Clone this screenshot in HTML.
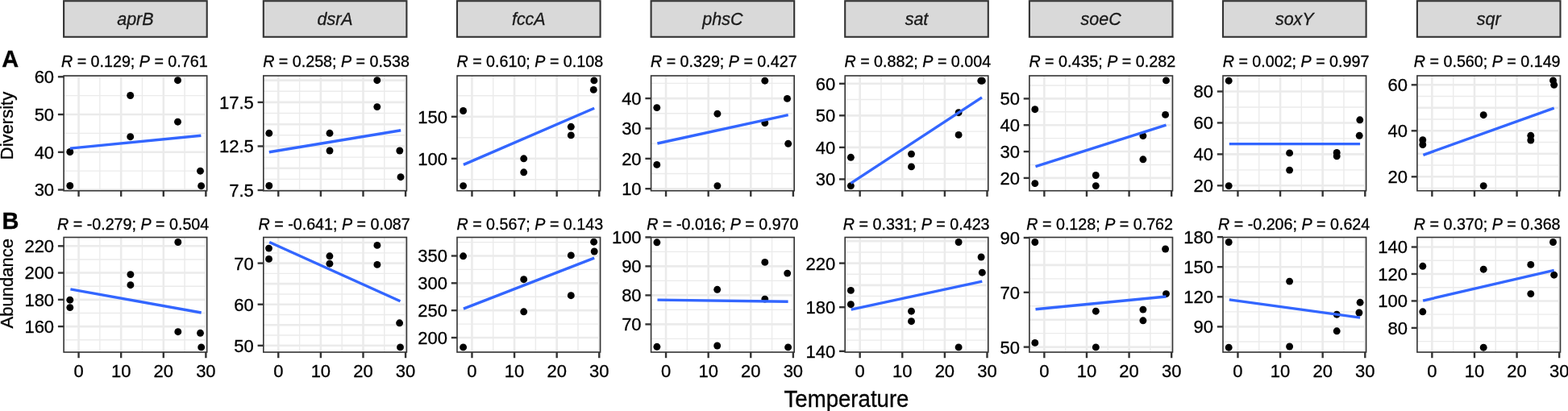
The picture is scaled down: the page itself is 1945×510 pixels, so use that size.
<!DOCTYPE html>
<html><head><meta charset="utf-8"><title>Temperature correlations</title>
<style>
html,body{margin:0;padding:0;background:#fff;}
body{width:1945px;height:510px;overflow:hidden;}
svg{display:block;font-family:"Liberation Sans",Arial,Helvetica,sans-serif;}
</style></head>
<body>
<svg width="1945" height="510" viewBox="0 0 1945 510">
<rect width="1945" height="510" fill="#fff"/>
<rect x="79.1" y="1.2" width="177.6" height="44.6" fill="#D9D9D9" stroke="#333333" stroke-width="2.1"/>
<text transform="translate(167.9,31.3) scale(1,1.04)" text-anchor="middle" font-size="21.5" fill="#1A1A1A" stroke="#1A1A1A" stroke-width="0.3" font-style="italic">aprB</text>
<rect x="326.8" y="1.2" width="177.6" height="44.6" fill="#D9D9D9" stroke="#333333" stroke-width="2.1"/>
<text transform="translate(415.6,31.3) scale(1,1.04)" text-anchor="middle" font-size="21.5" fill="#1A1A1A" stroke="#1A1A1A" stroke-width="0.3" font-style="italic">dsrA</text>
<rect x="567" y="1.2" width="177.6" height="44.6" fill="#D9D9D9" stroke="#333333" stroke-width="2.1"/>
<text transform="translate(655.8,31.3) scale(1,1.04)" text-anchor="middle" font-size="21.5" fill="#1A1A1A" stroke="#1A1A1A" stroke-width="0.3" font-style="italic">fccA</text>
<rect x="807.6" y="1.2" width="177.6" height="44.6" fill="#D9D9D9" stroke="#333333" stroke-width="2.1"/>
<text transform="translate(896.4,31.3) scale(1,1.04)" text-anchor="middle" font-size="21.5" fill="#1A1A1A" stroke="#1A1A1A" stroke-width="0.3" font-style="italic">phsC</text>
<rect x="1048.2" y="1.2" width="177.6" height="44.6" fill="#D9D9D9" stroke="#333333" stroke-width="2.1"/>
<text transform="translate(1137,31.3) scale(1,1.04)" text-anchor="middle" font-size="21.5" fill="#1A1A1A" stroke="#1A1A1A" stroke-width="0.3" font-style="italic">sat</text>
<rect x="1276.9" y="1.2" width="177.6" height="44.6" fill="#D9D9D9" stroke="#333333" stroke-width="2.1"/>
<text transform="translate(1365.7,31.3) scale(1,1.04)" text-anchor="middle" font-size="21.5" fill="#1A1A1A" stroke="#1A1A1A" stroke-width="0.3" font-style="italic">soeC</text>
<rect x="1517" y="1.2" width="177.6" height="44.6" fill="#D9D9D9" stroke="#333333" stroke-width="2.1"/>
<text transform="translate(1605.8,31.3) scale(1,1.04)" text-anchor="middle" font-size="21.5" fill="#1A1A1A" stroke="#1A1A1A" stroke-width="0.3" font-style="italic">soxY</text>
<rect x="1757.9" y="1.2" width="177.6" height="44.6" fill="#D9D9D9" stroke="#333333" stroke-width="2.1"/>
<text transform="translate(1846.7,31.3) scale(1,1.04)" text-anchor="middle" font-size="21.5" fill="#1A1A1A" stroke="#1A1A1A" stroke-width="0.3" font-style="italic">sqr</text>
<line x1="79.1" x2="256.7" y1="212.13" y2="212.13" stroke="#EBEBEB" stroke-width="1.4"/><line x1="79.1" x2="256.7" y1="165.4" y2="165.4" stroke="#EBEBEB" stroke-width="1.4"/><line x1="79.1" x2="256.7" y1="118.67" y2="118.67" stroke="#EBEBEB" stroke-width="1.4"/><line x1="123.87" x2="123.87" y1="94" y2="236.7" stroke="#EBEBEB" stroke-width="1.4"/><line x1="176.47" x2="176.47" y1="94" y2="236.7" stroke="#EBEBEB" stroke-width="1.4"/><line x1="229.08" x2="229.08" y1="94" y2="236.7" stroke="#EBEBEB" stroke-width="1.4"/><line x1="79.1" x2="256.7" y1="235.5" y2="235.5" stroke="#EBEBEB" stroke-width="2.6"/><line x1="79.1" x2="256.7" y1="188.77" y2="188.77" stroke="#EBEBEB" stroke-width="2.6"/><line x1="79.1" x2="256.7" y1="142.03" y2="142.03" stroke="#EBEBEB" stroke-width="2.6"/><line x1="79.1" x2="256.7" y1="95.3" y2="95.3" stroke="#EBEBEB" stroke-width="2.6"/><line x1="97.56" x2="97.56" y1="94" y2="236.7" stroke="#EBEBEB" stroke-width="2.6"/><line x1="150.17" x2="150.17" y1="94" y2="236.7" stroke="#EBEBEB" stroke-width="2.6"/><line x1="202.78" x2="202.78" y1="94" y2="236.7" stroke="#EBEBEB" stroke-width="2.6"/><line x1="255.38" x2="255.38" y1="94" y2="236.7" stroke="#EBEBEB" stroke-width="2.6"/>
<circle cx="86.8" cy="188.5" r="4.45"/><circle cx="86.8" cy="230.5" r="4.45"/><circle cx="161.7" cy="118.5" r="4.45"/><circle cx="161.7" cy="169.7" r="4.45"/><circle cx="220.5" cy="99.7" r="4.45"/><circle cx="220.5" cy="151.2" r="4.45"/><circle cx="248.5" cy="212.2" r="4.45"/><circle cx="249.6" cy="230.7" r="4.45"/>
<line x1="86.8" y1="184.1" x2="249.4" y2="168.2" stroke="#3366FF" stroke-width="3.4"/>
<rect x="79.1" y="94" width="177.6" height="142.7" fill="none" stroke="#333333" stroke-width="1.6"/>
<line x1="71.9" x2="79.1" y1="235.5" y2="235.5" stroke="#333333" stroke-width="2.4"/>
<text transform="translate(67.1,243.4) scale(1,1.04)" text-anchor="end" font-size="22" fill="#000" stroke="#000" stroke-width="0.3" >30</text>
<line x1="71.9" x2="79.1" y1="188.77" y2="188.77" stroke="#333333" stroke-width="2.4"/>
<text transform="translate(67.1,196.67) scale(1,1.04)" text-anchor="end" font-size="22" fill="#000" stroke="#000" stroke-width="0.3" >40</text>
<line x1="71.9" x2="79.1" y1="142.03" y2="142.03" stroke="#333333" stroke-width="2.4"/>
<text transform="translate(67.1,149.93) scale(1,1.04)" text-anchor="end" font-size="22" fill="#000" stroke="#000" stroke-width="0.3" >50</text>
<line x1="71.9" x2="79.1" y1="95.3" y2="95.3" stroke="#333333" stroke-width="2.4"/>
<text transform="translate(67.1,103.2) scale(1,1.04)" text-anchor="end" font-size="22" fill="#000" stroke="#000" stroke-width="0.3" >60</text>
<line x1="97.56" x2="97.56" y1="236.7" y2="243.9" stroke="#333333" stroke-width="2.4"/>
<line x1="150.17" x2="150.17" y1="236.7" y2="243.9" stroke="#333333" stroke-width="2.4"/>
<line x1="202.78" x2="202.78" y1="236.7" y2="243.9" stroke="#333333" stroke-width="2.4"/>
<line x1="255.38" x2="255.38" y1="236.7" y2="243.9" stroke="#333333" stroke-width="2.4"/>
<text transform="translate(166.8,83.4) scale(1,1.04)" text-anchor="middle" font-size="19.7" fill="#000" stroke="#000" stroke-width="0.3" ><tspan font-style="italic">R</tspan> = 0.129; <tspan font-style="italic">P</tspan> = 0.761</text>
<line x1="326.8" x2="504.4" y1="222.36" y2="222.36" stroke="#EBEBEB" stroke-width="1.4"/><line x1="326.8" x2="504.4" y1="195.09" y2="195.09" stroke="#EBEBEB" stroke-width="1.4"/><line x1="326.8" x2="504.4" y1="167.81" y2="167.81" stroke="#EBEBEB" stroke-width="1.4"/><line x1="326.8" x2="504.4" y1="140.54" y2="140.54" stroke="#EBEBEB" stroke-width="1.4"/><line x1="326.8" x2="504.4" y1="113.26" y2="113.26" stroke="#EBEBEB" stroke-width="1.4"/><line x1="371.57" x2="371.57" y1="94" y2="236.7" stroke="#EBEBEB" stroke-width="1.4"/><line x1="424.17" x2="424.17" y1="94" y2="236.7" stroke="#EBEBEB" stroke-width="1.4"/><line x1="476.78" x2="476.78" y1="94" y2="236.7" stroke="#EBEBEB" stroke-width="1.4"/><line x1="326.8" x2="504.4" y1="236" y2="236" stroke="#EBEBEB" stroke-width="2.6"/><line x1="326.8" x2="504.4" y1="208.73" y2="208.73" stroke="#EBEBEB" stroke-width="2.6"/><line x1="326.8" x2="504.4" y1="181.45" y2="181.45" stroke="#EBEBEB" stroke-width="2.6"/><line x1="326.8" x2="504.4" y1="154.18" y2="154.18" stroke="#EBEBEB" stroke-width="2.6"/><line x1="326.8" x2="504.4" y1="126.9" y2="126.9" stroke="#EBEBEB" stroke-width="2.6"/><line x1="326.8" x2="504.4" y1="99.62" y2="99.62" stroke="#EBEBEB" stroke-width="2.6"/><line x1="345.26" x2="345.26" y1="94" y2="236.7" stroke="#EBEBEB" stroke-width="2.6"/><line x1="397.87" x2="397.87" y1="94" y2="236.7" stroke="#EBEBEB" stroke-width="2.6"/><line x1="450.48" x2="450.48" y1="94" y2="236.7" stroke="#EBEBEB" stroke-width="2.6"/><line x1="503.08" x2="503.08" y1="94" y2="236.7" stroke="#EBEBEB" stroke-width="2.6"/>
<circle cx="333.8" cy="165.3" r="4.45"/><circle cx="333.8" cy="230.5" r="4.45"/><circle cx="409" cy="165.3" r="4.45"/><circle cx="409" cy="187" r="4.45"/><circle cx="467.8" cy="99.7" r="4.45"/><circle cx="467.8" cy="132.6" r="4.45"/><circle cx="495.8" cy="187" r="4.45"/><circle cx="497" cy="219.7" r="4.45"/>
<line x1="333.8" y1="188.8" x2="497.2" y2="161.7" stroke="#3366FF" stroke-width="3.4"/>
<rect x="326.8" y="94" width="177.6" height="142.7" fill="none" stroke="#333333" stroke-width="1.6"/>
<line x1="319.6" x2="326.8" y1="236" y2="236" stroke="#333333" stroke-width="2.4"/>
<text transform="translate(314.8,243.9) scale(1,1.04)" text-anchor="end" font-size="22" fill="#000" stroke="#000" stroke-width="0.3" >7.5</text>
<line x1="319.6" x2="326.8" y1="181.45" y2="181.45" stroke="#333333" stroke-width="2.4"/>
<text transform="translate(314.8,189.35) scale(1,1.04)" text-anchor="end" font-size="22" fill="#000" stroke="#000" stroke-width="0.3" >12.5</text>
<line x1="319.6" x2="326.8" y1="126.9" y2="126.9" stroke="#333333" stroke-width="2.4"/>
<text transform="translate(314.8,134.8) scale(1,1.04)" text-anchor="end" font-size="22" fill="#000" stroke="#000" stroke-width="0.3" >17.5</text>
<line x1="345.26" x2="345.26" y1="236.7" y2="243.9" stroke="#333333" stroke-width="2.4"/>
<line x1="397.87" x2="397.87" y1="236.7" y2="243.9" stroke="#333333" stroke-width="2.4"/>
<line x1="450.48" x2="450.48" y1="236.7" y2="243.9" stroke="#333333" stroke-width="2.4"/>
<line x1="503.08" x2="503.08" y1="236.7" y2="243.9" stroke="#333333" stroke-width="2.4"/>
<text transform="translate(417,83.4) scale(1,1.04)" text-anchor="middle" font-size="19.7" fill="#000" stroke="#000" stroke-width="0.3" ><tspan font-style="italic">R</tspan> = 0.258; <tspan font-style="italic">P</tspan> = 0.538</text>
<line x1="567" x2="744.6" y1="222.8" y2="222.8" stroke="#EBEBEB" stroke-width="1.4"/><line x1="567" x2="744.6" y1="170.8" y2="170.8" stroke="#EBEBEB" stroke-width="1.4"/><line x1="567" x2="744.6" y1="118.8" y2="118.8" stroke="#EBEBEB" stroke-width="1.4"/><line x1="611.77" x2="611.77" y1="94" y2="236.7" stroke="#EBEBEB" stroke-width="1.4"/><line x1="664.37" x2="664.37" y1="94" y2="236.7" stroke="#EBEBEB" stroke-width="1.4"/><line x1="716.98" x2="716.98" y1="94" y2="236.7" stroke="#EBEBEB" stroke-width="1.4"/><line x1="567" x2="744.6" y1="196.8" y2="196.8" stroke="#EBEBEB" stroke-width="2.6"/><line x1="567" x2="744.6" y1="144.8" y2="144.8" stroke="#EBEBEB" stroke-width="2.6"/><line x1="585.46" x2="585.46" y1="94" y2="236.7" stroke="#EBEBEB" stroke-width="2.6"/><line x1="638.07" x2="638.07" y1="94" y2="236.7" stroke="#EBEBEB" stroke-width="2.6"/><line x1="690.68" x2="690.68" y1="94" y2="236.7" stroke="#EBEBEB" stroke-width="2.6"/><line x1="743.28" x2="743.28" y1="94" y2="236.7" stroke="#EBEBEB" stroke-width="2.6"/>
<circle cx="574.6" cy="137.5" r="4.45"/><circle cx="574.6" cy="230.6" r="4.45"/><circle cx="649.7" cy="196.8" r="4.45"/><circle cx="649.7" cy="213.8" r="4.45"/><circle cx="708.3" cy="157.3" r="4.45"/><circle cx="708.3" cy="167.9" r="4.45"/><circle cx="736.9" cy="99.9" r="4.45"/><circle cx="736.3" cy="111.4" r="4.45"/>
<line x1="574.9" y1="204.4" x2="737.2" y2="134.2" stroke="#3366FF" stroke-width="3.4"/>
<rect x="567" y="94" width="177.6" height="142.7" fill="none" stroke="#333333" stroke-width="1.6"/>
<line x1="559.8" x2="567" y1="196.8" y2="196.8" stroke="#333333" stroke-width="2.4"/>
<text transform="translate(555,204.7) scale(1,1.04)" text-anchor="end" font-size="22" fill="#000" stroke="#000" stroke-width="0.3" >100</text>
<line x1="559.8" x2="567" y1="144.8" y2="144.8" stroke="#333333" stroke-width="2.4"/>
<text transform="translate(555,152.7) scale(1,1.04)" text-anchor="end" font-size="22" fill="#000" stroke="#000" stroke-width="0.3" >150</text>
<line x1="585.46" x2="585.46" y1="236.7" y2="243.9" stroke="#333333" stroke-width="2.4"/>
<line x1="638.07" x2="638.07" y1="236.7" y2="243.9" stroke="#333333" stroke-width="2.4"/>
<line x1="690.68" x2="690.68" y1="236.7" y2="243.9" stroke="#333333" stroke-width="2.4"/>
<line x1="743.28" x2="743.28" y1="236.7" y2="243.9" stroke="#333333" stroke-width="2.4"/>
<text transform="translate(657.3,83.4) scale(1,1.04)" text-anchor="middle" font-size="19.7" fill="#000" stroke="#000" stroke-width="0.3" ><tspan font-style="italic">R</tspan> = 0.610; <tspan font-style="italic">P</tspan> = 0.108</text>
<line x1="807.6" x2="985.2" y1="215.52" y2="215.52" stroke="#EBEBEB" stroke-width="1.4"/><line x1="807.6" x2="985.2" y1="178.15" y2="178.15" stroke="#EBEBEB" stroke-width="1.4"/><line x1="807.6" x2="985.2" y1="140.78" y2="140.78" stroke="#EBEBEB" stroke-width="1.4"/><line x1="807.6" x2="985.2" y1="103.42" y2="103.42" stroke="#EBEBEB" stroke-width="1.4"/><line x1="852.37" x2="852.37" y1="94" y2="236.7" stroke="#EBEBEB" stroke-width="1.4"/><line x1="904.97" x2="904.97" y1="94" y2="236.7" stroke="#EBEBEB" stroke-width="1.4"/><line x1="957.58" x2="957.58" y1="94" y2="236.7" stroke="#EBEBEB" stroke-width="1.4"/><line x1="807.6" x2="985.2" y1="234.2" y2="234.2" stroke="#EBEBEB" stroke-width="2.6"/><line x1="807.6" x2="985.2" y1="196.83" y2="196.83" stroke="#EBEBEB" stroke-width="2.6"/><line x1="807.6" x2="985.2" y1="159.47" y2="159.47" stroke="#EBEBEB" stroke-width="2.6"/><line x1="807.6" x2="985.2" y1="122.1" y2="122.1" stroke="#EBEBEB" stroke-width="2.6"/><line x1="826.06" x2="826.06" y1="94" y2="236.7" stroke="#EBEBEB" stroke-width="2.6"/><line x1="878.67" x2="878.67" y1="94" y2="236.7" stroke="#EBEBEB" stroke-width="2.6"/><line x1="931.28" x2="931.28" y1="94" y2="236.7" stroke="#EBEBEB" stroke-width="2.6"/><line x1="983.88" x2="983.88" y1="94" y2="236.7" stroke="#EBEBEB" stroke-width="2.6"/>
<circle cx="814.8" cy="133.6" r="4.45"/><circle cx="814.8" cy="204.4" r="4.45"/><circle cx="889.9" cy="141.2" r="4.45"/><circle cx="889.9" cy="230.6" r="4.45"/><circle cx="948.8" cy="100.2" r="4.45"/><circle cx="948.8" cy="152.5" r="4.45"/><circle cx="976.5" cy="122.4" r="4.45"/><circle cx="977.7" cy="178.3" r="4.45"/>
<line x1="815.4" y1="178" x2="977.7" y2="142.7" stroke="#3366FF" stroke-width="3.4"/>
<rect x="807.6" y="94" width="177.6" height="142.7" fill="none" stroke="#333333" stroke-width="1.6"/>
<line x1="800.4" x2="807.6" y1="234.2" y2="234.2" stroke="#333333" stroke-width="2.4"/>
<text transform="translate(795.6,242.1) scale(1,1.04)" text-anchor="end" font-size="22" fill="#000" stroke="#000" stroke-width="0.3" >10</text>
<line x1="800.4" x2="807.6" y1="196.83" y2="196.83" stroke="#333333" stroke-width="2.4"/>
<text transform="translate(795.6,204.73) scale(1,1.04)" text-anchor="end" font-size="22" fill="#000" stroke="#000" stroke-width="0.3" >20</text>
<line x1="800.4" x2="807.6" y1="159.47" y2="159.47" stroke="#333333" stroke-width="2.4"/>
<text transform="translate(795.6,167.37) scale(1,1.04)" text-anchor="end" font-size="22" fill="#000" stroke="#000" stroke-width="0.3" >30</text>
<line x1="800.4" x2="807.6" y1="122.1" y2="122.1" stroke="#333333" stroke-width="2.4"/>
<text transform="translate(795.6,130) scale(1,1.04)" text-anchor="end" font-size="22" fill="#000" stroke="#000" stroke-width="0.3" >40</text>
<line x1="826.06" x2="826.06" y1="236.7" y2="243.9" stroke="#333333" stroke-width="2.4"/>
<line x1="878.67" x2="878.67" y1="236.7" y2="243.9" stroke="#333333" stroke-width="2.4"/>
<line x1="931.28" x2="931.28" y1="236.7" y2="243.9" stroke="#333333" stroke-width="2.4"/>
<line x1="983.88" x2="983.88" y1="236.7" y2="243.9" stroke="#333333" stroke-width="2.4"/>
<text transform="translate(897.8,83.4) scale(1,1.04)" text-anchor="middle" font-size="19.7" fill="#000" stroke="#000" stroke-width="0.3" ><tspan font-style="italic">R</tspan> = 0.329; <tspan font-style="italic">P</tspan> = 0.427</text>
<line x1="1048.2" x2="1225.8" y1="202.63" y2="202.63" stroke="#EBEBEB" stroke-width="1.4"/><line x1="1048.2" x2="1225.8" y1="163.1" y2="163.1" stroke="#EBEBEB" stroke-width="1.4"/><line x1="1048.2" x2="1225.8" y1="123.57" y2="123.57" stroke="#EBEBEB" stroke-width="1.4"/><line x1="1092.97" x2="1092.97" y1="94" y2="236.7" stroke="#EBEBEB" stroke-width="1.4"/><line x1="1145.57" x2="1145.57" y1="94" y2="236.7" stroke="#EBEBEB" stroke-width="1.4"/><line x1="1198.18" x2="1198.18" y1="94" y2="236.7" stroke="#EBEBEB" stroke-width="1.4"/><line x1="1048.2" x2="1225.8" y1="222.4" y2="222.4" stroke="#EBEBEB" stroke-width="2.6"/><line x1="1048.2" x2="1225.8" y1="182.87" y2="182.87" stroke="#EBEBEB" stroke-width="2.6"/><line x1="1048.2" x2="1225.8" y1="143.33" y2="143.33" stroke="#EBEBEB" stroke-width="2.6"/><line x1="1048.2" x2="1225.8" y1="103.8" y2="103.8" stroke="#EBEBEB" stroke-width="2.6"/><line x1="1066.66" x2="1066.66" y1="94" y2="236.7" stroke="#EBEBEB" stroke-width="2.6"/><line x1="1119.27" x2="1119.27" y1="94" y2="236.7" stroke="#EBEBEB" stroke-width="2.6"/><line x1="1171.88" x2="1171.88" y1="94" y2="236.7" stroke="#EBEBEB" stroke-width="2.6"/><line x1="1224.48" x2="1224.48" y1="94" y2="236.7" stroke="#EBEBEB" stroke-width="2.6"/>
<circle cx="1055.4" cy="195.3" r="4.45"/><circle cx="1055.4" cy="230.6" r="4.45"/><circle cx="1130.5" cy="191.1" r="4.45"/><circle cx="1130.5" cy="206.9" r="4.45"/><circle cx="1189.1" cy="139.7" r="4.45"/><circle cx="1189.1" cy="167.4" r="4.45"/><circle cx="1216.8" cy="100.2" r="4.45"/><circle cx="1218.3" cy="100.2" r="4.45"/>
<line x1="1055.4" y1="227.3" x2="1218" y2="120.8" stroke="#3366FF" stroke-width="3.4"/>
<rect x="1048.2" y="94" width="177.6" height="142.7" fill="none" stroke="#333333" stroke-width="1.6"/>
<line x1="1041" x2="1048.2" y1="222.4" y2="222.4" stroke="#333333" stroke-width="2.4"/>
<text transform="translate(1036.2,230.3) scale(1,1.04)" text-anchor="end" font-size="22" fill="#000" stroke="#000" stroke-width="0.3" >30</text>
<line x1="1041" x2="1048.2" y1="182.87" y2="182.87" stroke="#333333" stroke-width="2.4"/>
<text transform="translate(1036.2,190.77) scale(1,1.04)" text-anchor="end" font-size="22" fill="#000" stroke="#000" stroke-width="0.3" >40</text>
<line x1="1041" x2="1048.2" y1="143.33" y2="143.33" stroke="#333333" stroke-width="2.4"/>
<text transform="translate(1036.2,151.23) scale(1,1.04)" text-anchor="end" font-size="22" fill="#000" stroke="#000" stroke-width="0.3" >50</text>
<line x1="1041" x2="1048.2" y1="103.8" y2="103.8" stroke="#333333" stroke-width="2.4"/>
<text transform="translate(1036.2,111.7) scale(1,1.04)" text-anchor="end" font-size="22" fill="#000" stroke="#000" stroke-width="0.3" >60</text>
<line x1="1066.66" x2="1066.66" y1="236.7" y2="243.9" stroke="#333333" stroke-width="2.4"/>
<line x1="1119.27" x2="1119.27" y1="236.7" y2="243.9" stroke="#333333" stroke-width="2.4"/>
<line x1="1171.88" x2="1171.88" y1="236.7" y2="243.9" stroke="#333333" stroke-width="2.4"/>
<line x1="1224.48" x2="1224.48" y1="236.7" y2="243.9" stroke="#333333" stroke-width="2.4"/>
<text transform="translate(1138.3,83.4) scale(1,1.04)" text-anchor="middle" font-size="19.7" fill="#000" stroke="#000" stroke-width="0.3" ><tspan font-style="italic">R</tspan> = 0.882; <tspan font-style="italic">P</tspan> = 0.004</text>
<line x1="1276.9" x2="1454.5" y1="204.48" y2="204.48" stroke="#EBEBEB" stroke-width="1.4"/><line x1="1276.9" x2="1454.5" y1="171.65" y2="171.65" stroke="#EBEBEB" stroke-width="1.4"/><line x1="1276.9" x2="1454.5" y1="138.82" y2="138.82" stroke="#EBEBEB" stroke-width="1.4"/><line x1="1276.9" x2="1454.5" y1="105.98" y2="105.98" stroke="#EBEBEB" stroke-width="1.4"/><line x1="1321.67" x2="1321.67" y1="94" y2="236.7" stroke="#EBEBEB" stroke-width="1.4"/><line x1="1374.27" x2="1374.27" y1="94" y2="236.7" stroke="#EBEBEB" stroke-width="1.4"/><line x1="1426.88" x2="1426.88" y1="94" y2="236.7" stroke="#EBEBEB" stroke-width="1.4"/><line x1="1276.9" x2="1454.5" y1="220.9" y2="220.9" stroke="#EBEBEB" stroke-width="2.6"/><line x1="1276.9" x2="1454.5" y1="188.07" y2="188.07" stroke="#EBEBEB" stroke-width="2.6"/><line x1="1276.9" x2="1454.5" y1="155.23" y2="155.23" stroke="#EBEBEB" stroke-width="2.6"/><line x1="1276.9" x2="1454.5" y1="122.4" y2="122.4" stroke="#EBEBEB" stroke-width="2.6"/><line x1="1295.36" x2="1295.36" y1="94" y2="236.7" stroke="#EBEBEB" stroke-width="2.6"/><line x1="1347.97" x2="1347.97" y1="94" y2="236.7" stroke="#EBEBEB" stroke-width="2.6"/><line x1="1400.58" x2="1400.58" y1="94" y2="236.7" stroke="#EBEBEB" stroke-width="2.6"/><line x1="1453.18" x2="1453.18" y1="94" y2="236.7" stroke="#EBEBEB" stroke-width="2.6"/>
<circle cx="1283.8" cy="135.7" r="4.45"/><circle cx="1283.8" cy="227.6" r="4.45"/><circle cx="1359.3" cy="217.5" r="4.45"/><circle cx="1359.3" cy="230.6" r="4.45"/><circle cx="1417.9" cy="168.6" r="4.45"/><circle cx="1417.9" cy="197.8" r="4.45"/><circle cx="1446.5" cy="99.9" r="4.45"/><circle cx="1445.6" cy="142.4" r="4.45"/>
<line x1="1284.5" y1="206.6" x2="1446.5" y2="155.2" stroke="#3366FF" stroke-width="3.4"/>
<rect x="1276.9" y="94" width="177.6" height="142.7" fill="none" stroke="#333333" stroke-width="1.6"/>
<line x1="1269.7" x2="1276.9" y1="220.9" y2="220.9" stroke="#333333" stroke-width="2.4"/>
<text transform="translate(1264.9,228.8) scale(1,1.04)" text-anchor="end" font-size="22" fill="#000" stroke="#000" stroke-width="0.3" >20</text>
<line x1="1269.7" x2="1276.9" y1="188.07" y2="188.07" stroke="#333333" stroke-width="2.4"/>
<text transform="translate(1264.9,195.97) scale(1,1.04)" text-anchor="end" font-size="22" fill="#000" stroke="#000" stroke-width="0.3" >30</text>
<line x1="1269.7" x2="1276.9" y1="155.23" y2="155.23" stroke="#333333" stroke-width="2.4"/>
<text transform="translate(1264.9,163.13) scale(1,1.04)" text-anchor="end" font-size="22" fill="#000" stroke="#000" stroke-width="0.3" >40</text>
<line x1="1269.7" x2="1276.9" y1="122.4" y2="122.4" stroke="#333333" stroke-width="2.4"/>
<text transform="translate(1264.9,130.3) scale(1,1.04)" text-anchor="end" font-size="22" fill="#000" stroke="#000" stroke-width="0.3" >50</text>
<line x1="1295.36" x2="1295.36" y1="236.7" y2="243.9" stroke="#333333" stroke-width="2.4"/>
<line x1="1347.97" x2="1347.97" y1="236.7" y2="243.9" stroke="#333333" stroke-width="2.4"/>
<line x1="1400.58" x2="1400.58" y1="236.7" y2="243.9" stroke="#333333" stroke-width="2.4"/>
<line x1="1453.18" x2="1453.18" y1="236.7" y2="243.9" stroke="#333333" stroke-width="2.4"/>
<text transform="translate(1367.25,83.4) scale(1,1.04)" text-anchor="middle" font-size="19.7" fill="#000" stroke="#000" stroke-width="0.3" ><tspan font-style="italic">R</tspan> = 0.435; <tspan font-style="italic">P</tspan> = 0.282</text>
<line x1="1517" x2="1694.6" y1="210.83" y2="210.83" stroke="#EBEBEB" stroke-width="1.4"/><line x1="1517" x2="1694.6" y1="171.9" y2="171.9" stroke="#EBEBEB" stroke-width="1.4"/><line x1="1517" x2="1694.6" y1="132.97" y2="132.97" stroke="#EBEBEB" stroke-width="1.4"/><line x1="1561.77" x2="1561.77" y1="94" y2="236.7" stroke="#EBEBEB" stroke-width="1.4"/><line x1="1614.37" x2="1614.37" y1="94" y2="236.7" stroke="#EBEBEB" stroke-width="1.4"/><line x1="1666.98" x2="1666.98" y1="94" y2="236.7" stroke="#EBEBEB" stroke-width="1.4"/><line x1="1517" x2="1694.6" y1="230.3" y2="230.3" stroke="#EBEBEB" stroke-width="2.6"/><line x1="1517" x2="1694.6" y1="191.37" y2="191.37" stroke="#EBEBEB" stroke-width="2.6"/><line x1="1517" x2="1694.6" y1="152.43" y2="152.43" stroke="#EBEBEB" stroke-width="2.6"/><line x1="1517" x2="1694.6" y1="113.5" y2="113.5" stroke="#EBEBEB" stroke-width="2.6"/><line x1="1535.46" x2="1535.46" y1="94" y2="236.7" stroke="#EBEBEB" stroke-width="2.6"/><line x1="1588.07" x2="1588.07" y1="94" y2="236.7" stroke="#EBEBEB" stroke-width="2.6"/><line x1="1640.68" x2="1640.68" y1="94" y2="236.7" stroke="#EBEBEB" stroke-width="2.6"/><line x1="1693.28" x2="1693.28" y1="94" y2="236.7" stroke="#EBEBEB" stroke-width="2.6"/>
<circle cx="1524.2" cy="100.2" r="4.45"/><circle cx="1524.2" cy="230.6" r="4.45"/><circle cx="1599.6" cy="189.9" r="4.45"/><circle cx="1599.6" cy="211.1" r="4.45"/><circle cx="1658.2" cy="189.5" r="4.45"/><circle cx="1658.2" cy="193.8" r="4.45"/><circle cx="1686.8" cy="148.8" r="4.45"/><circle cx="1686.2" cy="168.3" r="4.45"/>
<line x1="1524.8" y1="178.6" x2="1687.1" y2="178.6" stroke="#3366FF" stroke-width="3.4"/>
<rect x="1517" y="94" width="177.6" height="142.7" fill="none" stroke="#333333" stroke-width="1.6"/>
<line x1="1509.8" x2="1517" y1="230.3" y2="230.3" stroke="#333333" stroke-width="2.4"/>
<text transform="translate(1505,238.2) scale(1,1.04)" text-anchor="end" font-size="22" fill="#000" stroke="#000" stroke-width="0.3" >20</text>
<line x1="1509.8" x2="1517" y1="191.37" y2="191.37" stroke="#333333" stroke-width="2.4"/>
<text transform="translate(1505,199.27) scale(1,1.04)" text-anchor="end" font-size="22" fill="#000" stroke="#000" stroke-width="0.3" >40</text>
<line x1="1509.8" x2="1517" y1="152.43" y2="152.43" stroke="#333333" stroke-width="2.4"/>
<text transform="translate(1505,160.33) scale(1,1.04)" text-anchor="end" font-size="22" fill="#000" stroke="#000" stroke-width="0.3" >60</text>
<line x1="1509.8" x2="1517" y1="113.5" y2="113.5" stroke="#333333" stroke-width="2.4"/>
<text transform="translate(1505,121.4) scale(1,1.04)" text-anchor="end" font-size="22" fill="#000" stroke="#000" stroke-width="0.3" >80</text>
<line x1="1535.46" x2="1535.46" y1="236.7" y2="243.9" stroke="#333333" stroke-width="2.4"/>
<line x1="1588.07" x2="1588.07" y1="236.7" y2="243.9" stroke="#333333" stroke-width="2.4"/>
<line x1="1640.68" x2="1640.68" y1="236.7" y2="243.9" stroke="#333333" stroke-width="2.4"/>
<line x1="1693.28" x2="1693.28" y1="236.7" y2="243.9" stroke="#333333" stroke-width="2.4"/>
<text transform="translate(1607.55,83.4) scale(1,1.04)" text-anchor="middle" font-size="19.7" fill="#000" stroke="#000" stroke-width="0.3" ><tspan font-style="italic">R</tspan> = 0.002; <tspan font-style="italic">P</tspan> = 0.997</text>
<line x1="1757.9" x2="1935.5" y1="233.55" y2="233.55" stroke="#EBEBEB" stroke-width="1.4"/><line x1="1757.9" x2="1935.5" y1="205.05" y2="205.05" stroke="#EBEBEB" stroke-width="1.4"/><line x1="1757.9" x2="1935.5" y1="176.55" y2="176.55" stroke="#EBEBEB" stroke-width="1.4"/><line x1="1757.9" x2="1935.5" y1="148.05" y2="148.05" stroke="#EBEBEB" stroke-width="1.4"/><line x1="1757.9" x2="1935.5" y1="119.55" y2="119.55" stroke="#EBEBEB" stroke-width="1.4"/><line x1="1802.67" x2="1802.67" y1="94" y2="236.7" stroke="#EBEBEB" stroke-width="1.4"/><line x1="1855.27" x2="1855.27" y1="94" y2="236.7" stroke="#EBEBEB" stroke-width="1.4"/><line x1="1907.88" x2="1907.88" y1="94" y2="236.7" stroke="#EBEBEB" stroke-width="1.4"/><line x1="1757.9" x2="1935.5" y1="219.3" y2="219.3" stroke="#EBEBEB" stroke-width="2.6"/><line x1="1757.9" x2="1935.5" y1="190.8" y2="190.8" stroke="#EBEBEB" stroke-width="2.6"/><line x1="1757.9" x2="1935.5" y1="162.3" y2="162.3" stroke="#EBEBEB" stroke-width="2.6"/><line x1="1757.9" x2="1935.5" y1="133.8" y2="133.8" stroke="#EBEBEB" stroke-width="2.6"/><line x1="1757.9" x2="1935.5" y1="105.3" y2="105.3" stroke="#EBEBEB" stroke-width="2.6"/><line x1="1776.36" x2="1776.36" y1="94" y2="236.7" stroke="#EBEBEB" stroke-width="2.6"/><line x1="1828.97" x2="1828.97" y1="94" y2="236.7" stroke="#EBEBEB" stroke-width="2.6"/><line x1="1881.58" x2="1881.58" y1="94" y2="236.7" stroke="#EBEBEB" stroke-width="2.6"/><line x1="1934.18" x2="1934.18" y1="94" y2="236.7" stroke="#EBEBEB" stroke-width="2.6"/>
<circle cx="1764.8" cy="173.7" r="4.45"/><circle cx="1764.8" cy="179.5" r="4.45"/><circle cx="1840.2" cy="142.7" r="4.45"/><circle cx="1840.2" cy="230.6" r="4.45"/><circle cx="1898.8" cy="168.3" r="4.45"/><circle cx="1898.8" cy="174" r="4.45"/><circle cx="1926.5" cy="99.9" r="4.45"/><circle cx="1927.7" cy="105.3" r="4.45"/>
<line x1="1765.4" y1="192.3" x2="1927.7" y2="134.2" stroke="#3366FF" stroke-width="3.4"/>
<rect x="1757.9" y="94" width="177.6" height="142.7" fill="none" stroke="#333333" stroke-width="1.6"/>
<line x1="1750.7" x2="1757.9" y1="219.3" y2="219.3" stroke="#333333" stroke-width="2.4"/>
<text transform="translate(1745.9,227.2) scale(1,1.04)" text-anchor="end" font-size="22" fill="#000" stroke="#000" stroke-width="0.3" >20</text>
<line x1="1750.7" x2="1757.9" y1="162.3" y2="162.3" stroke="#333333" stroke-width="2.4"/>
<text transform="translate(1745.9,170.2) scale(1,1.04)" text-anchor="end" font-size="22" fill="#000" stroke="#000" stroke-width="0.3" >40</text>
<line x1="1750.7" x2="1757.9" y1="105.3" y2="105.3" stroke="#333333" stroke-width="2.4"/>
<text transform="translate(1745.9,113.2) scale(1,1.04)" text-anchor="end" font-size="22" fill="#000" stroke="#000" stroke-width="0.3" >60</text>
<line x1="1776.36" x2="1776.36" y1="236.7" y2="243.9" stroke="#333333" stroke-width="2.4"/>
<line x1="1828.97" x2="1828.97" y1="236.7" y2="243.9" stroke="#333333" stroke-width="2.4"/>
<line x1="1881.58" x2="1881.58" y1="236.7" y2="243.9" stroke="#333333" stroke-width="2.4"/>
<line x1="1934.18" x2="1934.18" y1="236.7" y2="243.9" stroke="#333333" stroke-width="2.4"/>
<text transform="translate(1844.7,83.4) scale(1,1.04)" text-anchor="middle" font-size="19.7" fill="#000" stroke="#000" stroke-width="0.3" ><tspan font-style="italic">R</tspan> = 0.560; <tspan font-style="italic">P</tspan> = 0.149</text>
<line x1="79.1" x2="256.7" y1="421.73" y2="421.73" stroke="#EBEBEB" stroke-width="1.4"/><line x1="79.1" x2="256.7" y1="388.47" y2="388.47" stroke="#EBEBEB" stroke-width="1.4"/><line x1="79.1" x2="256.7" y1="355.2" y2="355.2" stroke="#EBEBEB" stroke-width="1.4"/><line x1="79.1" x2="256.7" y1="321.93" y2="321.93" stroke="#EBEBEB" stroke-width="1.4"/><line x1="123.87" x2="123.87" y1="294.5" y2="437" stroke="#EBEBEB" stroke-width="1.4"/><line x1="176.47" x2="176.47" y1="294.5" y2="437" stroke="#EBEBEB" stroke-width="1.4"/><line x1="229.08" x2="229.08" y1="294.5" y2="437" stroke="#EBEBEB" stroke-width="1.4"/><line x1="79.1" x2="256.7" y1="405.1" y2="405.1" stroke="#EBEBEB" stroke-width="2.6"/><line x1="79.1" x2="256.7" y1="371.83" y2="371.83" stroke="#EBEBEB" stroke-width="2.6"/><line x1="79.1" x2="256.7" y1="338.57" y2="338.57" stroke="#EBEBEB" stroke-width="2.6"/><line x1="79.1" x2="256.7" y1="305.3" y2="305.3" stroke="#EBEBEB" stroke-width="2.6"/><line x1="97.56" x2="97.56" y1="294.5" y2="437" stroke="#EBEBEB" stroke-width="2.6"/><line x1="150.17" x2="150.17" y1="294.5" y2="437" stroke="#EBEBEB" stroke-width="2.6"/><line x1="202.78" x2="202.78" y1="294.5" y2="437" stroke="#EBEBEB" stroke-width="2.6"/><line x1="255.38" x2="255.38" y1="294.5" y2="437" stroke="#EBEBEB" stroke-width="2.6"/>
<circle cx="86.8" cy="372.2" r="4.45"/><circle cx="86.8" cy="381.6" r="4.45"/><circle cx="161.9" cy="340.6" r="4.45"/><circle cx="161.9" cy="353.7" r="4.45"/><circle cx="220.8" cy="300.5" r="4.45"/><circle cx="220.8" cy="411.7" r="4.45"/><circle cx="248.5" cy="413.3" r="4.45"/><circle cx="249.7" cy="430.9" r="4.45"/>
<line x1="87.4" y1="358.8" x2="249.7" y2="388" stroke="#3366FF" stroke-width="3.4"/>
<rect x="79.1" y="294.5" width="177.6" height="142.5" fill="none" stroke="#333333" stroke-width="1.6"/>
<line x1="71.9" x2="79.1" y1="405.1" y2="405.1" stroke="#333333" stroke-width="2.4"/>
<text transform="translate(67.1,413) scale(1,1.04)" text-anchor="end" font-size="22" fill="#000" stroke="#000" stroke-width="0.3" >160</text>
<line x1="71.9" x2="79.1" y1="371.83" y2="371.83" stroke="#333333" stroke-width="2.4"/>
<text transform="translate(67.1,379.73) scale(1,1.04)" text-anchor="end" font-size="22" fill="#000" stroke="#000" stroke-width="0.3" >180</text>
<line x1="71.9" x2="79.1" y1="338.57" y2="338.57" stroke="#333333" stroke-width="2.4"/>
<text transform="translate(67.1,346.47) scale(1,1.04)" text-anchor="end" font-size="22" fill="#000" stroke="#000" stroke-width="0.3" >200</text>
<line x1="71.9" x2="79.1" y1="305.3" y2="305.3" stroke="#333333" stroke-width="2.4"/>
<text transform="translate(67.1,313.2) scale(1,1.04)" text-anchor="end" font-size="22" fill="#000" stroke="#000" stroke-width="0.3" >220</text>
<line x1="97.56" x2="97.56" y1="437" y2="444.2" stroke="#333333" stroke-width="2.4"/>
<text transform="translate(97.56,468.2) scale(1,1.04)" text-anchor="middle" font-size="22" fill="#000" stroke="#000" stroke-width="0.3" >0</text>
<line x1="150.17" x2="150.17" y1="437" y2="444.2" stroke="#333333" stroke-width="2.4"/>
<text transform="translate(150.17,468.2) scale(1,1.04)" text-anchor="middle" font-size="22" fill="#000" stroke="#000" stroke-width="0.3" >10</text>
<line x1="202.78" x2="202.78" y1="437" y2="444.2" stroke="#333333" stroke-width="2.4"/>
<text transform="translate(202.78,468.2) scale(1,1.04)" text-anchor="middle" font-size="22" fill="#000" stroke="#000" stroke-width="0.3" >20</text>
<line x1="255.38" x2="255.38" y1="437" y2="444.2" stroke="#333333" stroke-width="2.4"/>
<text transform="translate(255.38,468.2) scale(1,1.04)" text-anchor="middle" font-size="22" fill="#000" stroke="#000" stroke-width="0.3" >30</text>
<text transform="translate(165.15,285.2) scale(1,1.04)" text-anchor="middle" font-size="19.7" fill="#000" stroke="#000" stroke-width="0.3" ><tspan font-style="italic">R</tspan> = -0.279; <tspan font-style="italic">P</tspan> = 0.504</text>
<line x1="326.8" x2="504.4" y1="416.02" y2="416.02" stroke="#EBEBEB" stroke-width="1.4"/><line x1="326.8" x2="504.4" y1="390.48" y2="390.48" stroke="#EBEBEB" stroke-width="1.4"/><line x1="326.8" x2="504.4" y1="364.93" y2="364.93" stroke="#EBEBEB" stroke-width="1.4"/><line x1="326.8" x2="504.4" y1="339.38" y2="339.38" stroke="#EBEBEB" stroke-width="1.4"/><line x1="326.8" x2="504.4" y1="313.83" y2="313.83" stroke="#EBEBEB" stroke-width="1.4"/><line x1="371.57" x2="371.57" y1="294.5" y2="437" stroke="#EBEBEB" stroke-width="1.4"/><line x1="424.17" x2="424.17" y1="294.5" y2="437" stroke="#EBEBEB" stroke-width="1.4"/><line x1="476.78" x2="476.78" y1="294.5" y2="437" stroke="#EBEBEB" stroke-width="1.4"/><line x1="326.8" x2="504.4" y1="428.8" y2="428.8" stroke="#EBEBEB" stroke-width="2.6"/><line x1="326.8" x2="504.4" y1="403.25" y2="403.25" stroke="#EBEBEB" stroke-width="2.6"/><line x1="326.8" x2="504.4" y1="377.7" y2="377.7" stroke="#EBEBEB" stroke-width="2.6"/><line x1="326.8" x2="504.4" y1="352.15" y2="352.15" stroke="#EBEBEB" stroke-width="2.6"/><line x1="326.8" x2="504.4" y1="326.6" y2="326.6" stroke="#EBEBEB" stroke-width="2.6"/><line x1="326.8" x2="504.4" y1="301.05" y2="301.05" stroke="#EBEBEB" stroke-width="2.6"/><line x1="345.26" x2="345.26" y1="294.5" y2="437" stroke="#EBEBEB" stroke-width="2.6"/><line x1="397.87" x2="397.87" y1="294.5" y2="437" stroke="#EBEBEB" stroke-width="2.6"/><line x1="450.48" x2="450.48" y1="294.5" y2="437" stroke="#EBEBEB" stroke-width="2.6"/><line x1="503.08" x2="503.08" y1="294.5" y2="437" stroke="#EBEBEB" stroke-width="2.6"/>
<circle cx="333.5" cy="308.1" r="4.45"/><circle cx="333.5" cy="321.4" r="4.45"/><circle cx="408.9" cy="317.8" r="4.45"/><circle cx="408.9" cy="327.2" r="4.45"/><circle cx="467.9" cy="304.4" r="4.45"/><circle cx="467.9" cy="328.4" r="4.45"/><circle cx="495.6" cy="400.8" r="4.45"/><circle cx="496.5" cy="430.9" r="4.45"/>
<line x1="334.2" y1="300.5" x2="496.5" y2="373.7" stroke="#3366FF" stroke-width="3.4"/>
<rect x="326.8" y="294.5" width="177.6" height="142.5" fill="none" stroke="#333333" stroke-width="1.6"/>
<line x1="319.6" x2="326.8" y1="428.8" y2="428.8" stroke="#333333" stroke-width="2.4"/>
<text transform="translate(314.8,436.7) scale(1,1.04)" text-anchor="end" font-size="22" fill="#000" stroke="#000" stroke-width="0.3" >50</text>
<line x1="319.6" x2="326.8" y1="377.7" y2="377.7" stroke="#333333" stroke-width="2.4"/>
<text transform="translate(314.8,385.6) scale(1,1.04)" text-anchor="end" font-size="22" fill="#000" stroke="#000" stroke-width="0.3" >60</text>
<line x1="319.6" x2="326.8" y1="326.6" y2="326.6" stroke="#333333" stroke-width="2.4"/>
<text transform="translate(314.8,334.5) scale(1,1.04)" text-anchor="end" font-size="22" fill="#000" stroke="#000" stroke-width="0.3" >70</text>
<line x1="345.26" x2="345.26" y1="437" y2="444.2" stroke="#333333" stroke-width="2.4"/>
<text transform="translate(345.26,468.2) scale(1,1.04)" text-anchor="middle" font-size="22" fill="#000" stroke="#000" stroke-width="0.3" >0</text>
<line x1="397.87" x2="397.87" y1="437" y2="444.2" stroke="#333333" stroke-width="2.4"/>
<text transform="translate(397.87,468.2) scale(1,1.04)" text-anchor="middle" font-size="22" fill="#000" stroke="#000" stroke-width="0.3" >10</text>
<line x1="450.48" x2="450.48" y1="437" y2="444.2" stroke="#333333" stroke-width="2.4"/>
<text transform="translate(450.48,468.2) scale(1,1.04)" text-anchor="middle" font-size="22" fill="#000" stroke="#000" stroke-width="0.3" >20</text>
<line x1="503.08" x2="503.08" y1="437" y2="444.2" stroke="#333333" stroke-width="2.4"/>
<text transform="translate(503.08,468.2) scale(1,1.04)" text-anchor="middle" font-size="22" fill="#000" stroke="#000" stroke-width="0.3" >30</text>
<text transform="translate(414.65,285.2) scale(1,1.04)" text-anchor="middle" font-size="19.7" fill="#000" stroke="#000" stroke-width="0.3" ><tspan font-style="italic">R</tspan> = -0.641; <tspan font-style="italic">P</tspan> = 0.087</text>
<line x1="567" x2="744.6" y1="435.92" y2="435.92" stroke="#EBEBEB" stroke-width="1.4"/><line x1="567" x2="744.6" y1="402.08" y2="402.08" stroke="#EBEBEB" stroke-width="1.4"/><line x1="567" x2="744.6" y1="368.25" y2="368.25" stroke="#EBEBEB" stroke-width="1.4"/><line x1="567" x2="744.6" y1="334.42" y2="334.42" stroke="#EBEBEB" stroke-width="1.4"/><line x1="567" x2="744.6" y1="300.58" y2="300.58" stroke="#EBEBEB" stroke-width="1.4"/><line x1="611.77" x2="611.77" y1="294.5" y2="437" stroke="#EBEBEB" stroke-width="1.4"/><line x1="664.37" x2="664.37" y1="294.5" y2="437" stroke="#EBEBEB" stroke-width="1.4"/><line x1="716.98" x2="716.98" y1="294.5" y2="437" stroke="#EBEBEB" stroke-width="1.4"/><line x1="567" x2="744.6" y1="419" y2="419" stroke="#EBEBEB" stroke-width="2.6"/><line x1="567" x2="744.6" y1="385.17" y2="385.17" stroke="#EBEBEB" stroke-width="2.6"/><line x1="567" x2="744.6" y1="351.33" y2="351.33" stroke="#EBEBEB" stroke-width="2.6"/><line x1="567" x2="744.6" y1="317.5" y2="317.5" stroke="#EBEBEB" stroke-width="2.6"/><line x1="585.46" x2="585.46" y1="294.5" y2="437" stroke="#EBEBEB" stroke-width="2.6"/><line x1="638.07" x2="638.07" y1="294.5" y2="437" stroke="#EBEBEB" stroke-width="2.6"/><line x1="690.68" x2="690.68" y1="294.5" y2="437" stroke="#EBEBEB" stroke-width="2.6"/><line x1="743.28" x2="743.28" y1="294.5" y2="437" stroke="#EBEBEB" stroke-width="2.6"/>
<circle cx="574.6" cy="317.8" r="4.45"/><circle cx="574.6" cy="430.9" r="4.45"/><circle cx="649.7" cy="346.7" r="4.45"/><circle cx="649.7" cy="386.8" r="4.45"/><circle cx="708.3" cy="316.9" r="4.45"/><circle cx="708.3" cy="366.7" r="4.45"/><circle cx="736.6" cy="300.2" r="4.45"/><circle cx="737.2" cy="312" r="4.45"/>
<line x1="574.9" y1="383.1" x2="737.2" y2="320.2" stroke="#3366FF" stroke-width="3.4"/>
<rect x="567" y="294.5" width="177.6" height="142.5" fill="none" stroke="#333333" stroke-width="1.6"/>
<line x1="559.8" x2="567" y1="419" y2="419" stroke="#333333" stroke-width="2.4"/>
<text transform="translate(555,426.9) scale(1,1.04)" text-anchor="end" font-size="22" fill="#000" stroke="#000" stroke-width="0.3" >200</text>
<line x1="559.8" x2="567" y1="385.17" y2="385.17" stroke="#333333" stroke-width="2.4"/>
<text transform="translate(555,393.07) scale(1,1.04)" text-anchor="end" font-size="22" fill="#000" stroke="#000" stroke-width="0.3" >250</text>
<line x1="559.8" x2="567" y1="351.33" y2="351.33" stroke="#333333" stroke-width="2.4"/>
<text transform="translate(555,359.23) scale(1,1.04)" text-anchor="end" font-size="22" fill="#000" stroke="#000" stroke-width="0.3" >300</text>
<line x1="559.8" x2="567" y1="317.5" y2="317.5" stroke="#333333" stroke-width="2.4"/>
<text transform="translate(555,325.4) scale(1,1.04)" text-anchor="end" font-size="22" fill="#000" stroke="#000" stroke-width="0.3" >350</text>
<line x1="585.46" x2="585.46" y1="437" y2="444.2" stroke="#333333" stroke-width="2.4"/>
<text transform="translate(585.46,468.2) scale(1,1.04)" text-anchor="middle" font-size="22" fill="#000" stroke="#000" stroke-width="0.3" >0</text>
<line x1="638.07" x2="638.07" y1="437" y2="444.2" stroke="#333333" stroke-width="2.4"/>
<text transform="translate(638.07,468.2) scale(1,1.04)" text-anchor="middle" font-size="22" fill="#000" stroke="#000" stroke-width="0.3" >10</text>
<line x1="690.68" x2="690.68" y1="437" y2="444.2" stroke="#333333" stroke-width="2.4"/>
<text transform="translate(690.68,468.2) scale(1,1.04)" text-anchor="middle" font-size="22" fill="#000" stroke="#000" stroke-width="0.3" >20</text>
<line x1="743.28" x2="743.28" y1="437" y2="444.2" stroke="#333333" stroke-width="2.4"/>
<text transform="translate(743.28,468.2) scale(1,1.04)" text-anchor="middle" font-size="22" fill="#000" stroke="#000" stroke-width="0.3" >30</text>
<text transform="translate(657.3,285.2) scale(1,1.04)" text-anchor="middle" font-size="19.7" fill="#000" stroke="#000" stroke-width="0.3" ><tspan font-style="italic">R</tspan> = 0.567; <tspan font-style="italic">P</tspan> = 0.143</text>
<line x1="807.6" x2="985.2" y1="420.4" y2="420.4" stroke="#EBEBEB" stroke-width="1.4"/><line x1="807.6" x2="985.2" y1="384.4" y2="384.4" stroke="#EBEBEB" stroke-width="1.4"/><line x1="807.6" x2="985.2" y1="348.4" y2="348.4" stroke="#EBEBEB" stroke-width="1.4"/><line x1="807.6" x2="985.2" y1="312.4" y2="312.4" stroke="#EBEBEB" stroke-width="1.4"/><line x1="852.37" x2="852.37" y1="294.5" y2="437" stroke="#EBEBEB" stroke-width="1.4"/><line x1="904.97" x2="904.97" y1="294.5" y2="437" stroke="#EBEBEB" stroke-width="1.4"/><line x1="957.58" x2="957.58" y1="294.5" y2="437" stroke="#EBEBEB" stroke-width="1.4"/><line x1="807.6" x2="985.2" y1="402.4" y2="402.4" stroke="#EBEBEB" stroke-width="2.6"/><line x1="807.6" x2="985.2" y1="366.4" y2="366.4" stroke="#EBEBEB" stroke-width="2.6"/><line x1="807.6" x2="985.2" y1="330.4" y2="330.4" stroke="#EBEBEB" stroke-width="2.6"/><line x1="826.06" x2="826.06" y1="294.5" y2="437" stroke="#EBEBEB" stroke-width="2.6"/><line x1="878.67" x2="878.67" y1="294.5" y2="437" stroke="#EBEBEB" stroke-width="2.6"/><line x1="931.28" x2="931.28" y1="294.5" y2="437" stroke="#EBEBEB" stroke-width="2.6"/><line x1="983.88" x2="983.88" y1="294.5" y2="437" stroke="#EBEBEB" stroke-width="2.6"/>
<circle cx="814.9" cy="300.8" r="4.45"/><circle cx="814.9" cy="430.3" r="4.45"/><circle cx="889.7" cy="359.3" r="4.45"/><circle cx="889.7" cy="429" r="4.45"/><circle cx="948.8" cy="325.4" r="4.45"/><circle cx="948.8" cy="371.1" r="4.45"/><circle cx="976.7" cy="339.1" r="4.45"/><circle cx="977.6" cy="430.9" r="4.45"/>
<line x1="815.5" y1="372.1" x2="977.6" y2="374.3" stroke="#3366FF" stroke-width="3.4"/>
<rect x="807.6" y="294.5" width="177.6" height="142.5" fill="none" stroke="#333333" stroke-width="1.6"/>
<line x1="800.4" x2="807.6" y1="402.4" y2="402.4" stroke="#333333" stroke-width="2.4"/>
<text transform="translate(795.6,410.3) scale(1,1.04)" text-anchor="end" font-size="22" fill="#000" stroke="#000" stroke-width="0.3" >70</text>
<line x1="800.4" x2="807.6" y1="366.4" y2="366.4" stroke="#333333" stroke-width="2.4"/>
<text transform="translate(795.6,374.3) scale(1,1.04)" text-anchor="end" font-size="22" fill="#000" stroke="#000" stroke-width="0.3" >80</text>
<line x1="800.4" x2="807.6" y1="330.4" y2="330.4" stroke="#333333" stroke-width="2.4"/>
<text transform="translate(795.6,338.3) scale(1,1.04)" text-anchor="end" font-size="22" fill="#000" stroke="#000" stroke-width="0.3" >90</text>
<line x1="800.4" x2="807.6" y1="294.4" y2="294.4" stroke="#333333" stroke-width="2.4"/>
<text transform="translate(795.6,302.3) scale(1,1.04)" text-anchor="end" font-size="22" fill="#000" stroke="#000" stroke-width="0.3" >100</text>
<line x1="826.06" x2="826.06" y1="437" y2="444.2" stroke="#333333" stroke-width="2.4"/>
<text transform="translate(826.06,468.2) scale(1,1.04)" text-anchor="middle" font-size="22" fill="#000" stroke="#000" stroke-width="0.3" >0</text>
<line x1="878.67" x2="878.67" y1="437" y2="444.2" stroke="#333333" stroke-width="2.4"/>
<text transform="translate(878.67,468.2) scale(1,1.04)" text-anchor="middle" font-size="22" fill="#000" stroke="#000" stroke-width="0.3" >10</text>
<line x1="931.28" x2="931.28" y1="437" y2="444.2" stroke="#333333" stroke-width="2.4"/>
<text transform="translate(931.28,468.2) scale(1,1.04)" text-anchor="middle" font-size="22" fill="#000" stroke="#000" stroke-width="0.3" >20</text>
<line x1="983.88" x2="983.88" y1="437" y2="444.2" stroke="#333333" stroke-width="2.4"/>
<text transform="translate(983.88,468.2) scale(1,1.04)" text-anchor="middle" font-size="22" fill="#000" stroke="#000" stroke-width="0.3" >30</text>
<text transform="translate(896.4,285.2) scale(1,1.04)" text-anchor="middle" font-size="19.7" fill="#000" stroke="#000" stroke-width="0.3" ><tspan font-style="italic">R</tspan> = -0.016; <tspan font-style="italic">P</tspan> = 0.970</text>
<line x1="1048.2" x2="1225.8" y1="422.15" y2="422.15" stroke="#EBEBEB" stroke-width="1.4"/><line x1="1048.2" x2="1225.8" y1="394.85" y2="394.85" stroke="#EBEBEB" stroke-width="1.4"/><line x1="1048.2" x2="1225.8" y1="367.55" y2="367.55" stroke="#EBEBEB" stroke-width="1.4"/><line x1="1048.2" x2="1225.8" y1="340.25" y2="340.25" stroke="#EBEBEB" stroke-width="1.4"/><line x1="1048.2" x2="1225.8" y1="312.95" y2="312.95" stroke="#EBEBEB" stroke-width="1.4"/><line x1="1092.97" x2="1092.97" y1="294.5" y2="437" stroke="#EBEBEB" stroke-width="1.4"/><line x1="1145.57" x2="1145.57" y1="294.5" y2="437" stroke="#EBEBEB" stroke-width="1.4"/><line x1="1198.18" x2="1198.18" y1="294.5" y2="437" stroke="#EBEBEB" stroke-width="1.4"/><line x1="1048.2" x2="1225.8" y1="435.8" y2="435.8" stroke="#EBEBEB" stroke-width="2.6"/><line x1="1048.2" x2="1225.8" y1="408.5" y2="408.5" stroke="#EBEBEB" stroke-width="2.6"/><line x1="1048.2" x2="1225.8" y1="381.2" y2="381.2" stroke="#EBEBEB" stroke-width="2.6"/><line x1="1048.2" x2="1225.8" y1="353.9" y2="353.9" stroke="#EBEBEB" stroke-width="2.6"/><line x1="1048.2" x2="1225.8" y1="326.6" y2="326.6" stroke="#EBEBEB" stroke-width="2.6"/><line x1="1048.2" x2="1225.8" y1="299.3" y2="299.3" stroke="#EBEBEB" stroke-width="2.6"/><line x1="1066.66" x2="1066.66" y1="294.5" y2="437" stroke="#EBEBEB" stroke-width="2.6"/><line x1="1119.27" x2="1119.27" y1="294.5" y2="437" stroke="#EBEBEB" stroke-width="2.6"/><line x1="1171.88" x2="1171.88" y1="294.5" y2="437" stroke="#EBEBEB" stroke-width="2.6"/><line x1="1224.48" x2="1224.48" y1="294.5" y2="437" stroke="#EBEBEB" stroke-width="2.6"/>
<circle cx="1055.4" cy="360.4" r="4.45"/><circle cx="1055.4" cy="377.7" r="4.45"/><circle cx="1130.5" cy="386.2" r="4.45"/><circle cx="1130.5" cy="398.7" r="4.45"/><circle cx="1189.1" cy="300.5" r="4.45"/><circle cx="1189.1" cy="430.9" r="4.45"/><circle cx="1217.1" cy="319" r="4.45"/><circle cx="1218.3" cy="338.2" r="4.45"/>
<line x1="1055.7" y1="384.1" x2="1218.3" y2="349.1" stroke="#3366FF" stroke-width="3.4"/>
<rect x="1048.2" y="294.5" width="177.6" height="142.5" fill="none" stroke="#333333" stroke-width="1.6"/>
<line x1="1041" x2="1048.2" y1="435.8" y2="435.8" stroke="#333333" stroke-width="2.4"/>
<text transform="translate(1036.2,443.7) scale(1,1.04)" text-anchor="end" font-size="22" fill="#000" stroke="#000" stroke-width="0.3" >140</text>
<line x1="1041" x2="1048.2" y1="381.2" y2="381.2" stroke="#333333" stroke-width="2.4"/>
<text transform="translate(1036.2,389.1) scale(1,1.04)" text-anchor="end" font-size="22" fill="#000" stroke="#000" stroke-width="0.3" >180</text>
<line x1="1041" x2="1048.2" y1="326.6" y2="326.6" stroke="#333333" stroke-width="2.4"/>
<text transform="translate(1036.2,334.5) scale(1,1.04)" text-anchor="end" font-size="22" fill="#000" stroke="#000" stroke-width="0.3" >220</text>
<line x1="1066.66" x2="1066.66" y1="437" y2="444.2" stroke="#333333" stroke-width="2.4"/>
<text transform="translate(1066.66,468.2) scale(1,1.04)" text-anchor="middle" font-size="22" fill="#000" stroke="#000" stroke-width="0.3" >0</text>
<line x1="1119.27" x2="1119.27" y1="437" y2="444.2" stroke="#333333" stroke-width="2.4"/>
<text transform="translate(1119.27,468.2) scale(1,1.04)" text-anchor="middle" font-size="22" fill="#000" stroke="#000" stroke-width="0.3" >10</text>
<line x1="1171.88" x2="1171.88" y1="437" y2="444.2" stroke="#333333" stroke-width="2.4"/>
<text transform="translate(1171.88,468.2) scale(1,1.04)" text-anchor="middle" font-size="22" fill="#000" stroke="#000" stroke-width="0.3" >20</text>
<line x1="1224.48" x2="1224.48" y1="437" y2="444.2" stroke="#333333" stroke-width="2.4"/>
<text transform="translate(1224.48,468.2) scale(1,1.04)" text-anchor="middle" font-size="22" fill="#000" stroke="#000" stroke-width="0.3" >30</text>
<text transform="translate(1136.7,285.2) scale(1,1.04)" text-anchor="middle" font-size="19.7" fill="#000" stroke="#000" stroke-width="0.3" ><tspan font-style="italic">R</tspan> = 0.331; <tspan font-style="italic">P</tspan> = 0.423</text>
<line x1="1276.9" x2="1454.5" y1="413.65" y2="413.65" stroke="#EBEBEB" stroke-width="1.4"/><line x1="1276.9" x2="1454.5" y1="379.75" y2="379.75" stroke="#EBEBEB" stroke-width="1.4"/><line x1="1276.9" x2="1454.5" y1="345.85" y2="345.85" stroke="#EBEBEB" stroke-width="1.4"/><line x1="1276.9" x2="1454.5" y1="311.95" y2="311.95" stroke="#EBEBEB" stroke-width="1.4"/><line x1="1321.67" x2="1321.67" y1="294.5" y2="437" stroke="#EBEBEB" stroke-width="1.4"/><line x1="1374.27" x2="1374.27" y1="294.5" y2="437" stroke="#EBEBEB" stroke-width="1.4"/><line x1="1426.88" x2="1426.88" y1="294.5" y2="437" stroke="#EBEBEB" stroke-width="1.4"/><line x1="1276.9" x2="1454.5" y1="430.6" y2="430.6" stroke="#EBEBEB" stroke-width="2.6"/><line x1="1276.9" x2="1454.5" y1="396.7" y2="396.7" stroke="#EBEBEB" stroke-width="2.6"/><line x1="1276.9" x2="1454.5" y1="362.8" y2="362.8" stroke="#EBEBEB" stroke-width="2.6"/><line x1="1276.9" x2="1454.5" y1="328.9" y2="328.9" stroke="#EBEBEB" stroke-width="2.6"/><line x1="1295.36" x2="1295.36" y1="294.5" y2="437" stroke="#EBEBEB" stroke-width="2.6"/><line x1="1347.97" x2="1347.97" y1="294.5" y2="437" stroke="#EBEBEB" stroke-width="2.6"/><line x1="1400.58" x2="1400.58" y1="294.5" y2="437" stroke="#EBEBEB" stroke-width="2.6"/><line x1="1453.18" x2="1453.18" y1="294.5" y2="437" stroke="#EBEBEB" stroke-width="2.6"/>
<circle cx="1283.8" cy="300.5" r="4.45"/><circle cx="1283.8" cy="425.4" r="4.45"/><circle cx="1359.3" cy="386.2" r="4.45"/><circle cx="1359.3" cy="430.9" r="4.45"/><circle cx="1417.9" cy="384.1" r="4.45"/><circle cx="1417.9" cy="397.8" r="4.45"/><circle cx="1445.6" cy="309" r="4.45"/><circle cx="1446.5" cy="364.6" r="4.45"/>
<line x1="1284.5" y1="383.8" x2="1446.5" y2="368" stroke="#3366FF" stroke-width="3.4"/>
<rect x="1276.9" y="294.5" width="177.6" height="142.5" fill="none" stroke="#333333" stroke-width="1.6"/>
<line x1="1269.7" x2="1276.9" y1="430.6" y2="430.6" stroke="#333333" stroke-width="2.4"/>
<text transform="translate(1264.9,438.5) scale(1,1.04)" text-anchor="end" font-size="22" fill="#000" stroke="#000" stroke-width="0.3" >50</text>
<line x1="1269.7" x2="1276.9" y1="362.8" y2="362.8" stroke="#333333" stroke-width="2.4"/>
<text transform="translate(1264.9,370.7) scale(1,1.04)" text-anchor="end" font-size="22" fill="#000" stroke="#000" stroke-width="0.3" >70</text>
<line x1="1269.7" x2="1276.9" y1="295" y2="295" stroke="#333333" stroke-width="2.4"/>
<text transform="translate(1264.9,302.9) scale(1,1.04)" text-anchor="end" font-size="22" fill="#000" stroke="#000" stroke-width="0.3" >90</text>
<line x1="1295.36" x2="1295.36" y1="437" y2="444.2" stroke="#333333" stroke-width="2.4"/>
<text transform="translate(1295.36,468.2) scale(1,1.04)" text-anchor="middle" font-size="22" fill="#000" stroke="#000" stroke-width="0.3" >0</text>
<line x1="1347.97" x2="1347.97" y1="437" y2="444.2" stroke="#333333" stroke-width="2.4"/>
<text transform="translate(1347.97,468.2) scale(1,1.04)" text-anchor="middle" font-size="22" fill="#000" stroke="#000" stroke-width="0.3" >10</text>
<line x1="1400.58" x2="1400.58" y1="437" y2="444.2" stroke="#333333" stroke-width="2.4"/>
<text transform="translate(1400.58,468.2) scale(1,1.04)" text-anchor="middle" font-size="22" fill="#000" stroke="#000" stroke-width="0.3" >20</text>
<line x1="1453.18" x2="1453.18" y1="437" y2="444.2" stroke="#333333" stroke-width="2.4"/>
<text transform="translate(1453.18,468.2) scale(1,1.04)" text-anchor="middle" font-size="22" fill="#000" stroke="#000" stroke-width="0.3" >30</text>
<text transform="translate(1364.15,285.2) scale(1,1.04)" text-anchor="middle" font-size="19.7" fill="#000" stroke="#000" stroke-width="0.3" ><tspan font-style="italic">R</tspan> = 0.128; <tspan font-style="italic">P</tspan> = 0.762</text>
<line x1="1517" x2="1694.6" y1="423.95" y2="423.95" stroke="#EBEBEB" stroke-width="1.4"/><line x1="1517" x2="1694.6" y1="386.85" y2="386.85" stroke="#EBEBEB" stroke-width="1.4"/><line x1="1517" x2="1694.6" y1="349.75" y2="349.75" stroke="#EBEBEB" stroke-width="1.4"/><line x1="1517" x2="1694.6" y1="312.65" y2="312.65" stroke="#EBEBEB" stroke-width="1.4"/><line x1="1561.77" x2="1561.77" y1="294.5" y2="437" stroke="#EBEBEB" stroke-width="1.4"/><line x1="1614.37" x2="1614.37" y1="294.5" y2="437" stroke="#EBEBEB" stroke-width="1.4"/><line x1="1666.98" x2="1666.98" y1="294.5" y2="437" stroke="#EBEBEB" stroke-width="1.4"/><line x1="1517" x2="1694.6" y1="405.4" y2="405.4" stroke="#EBEBEB" stroke-width="2.6"/><line x1="1517" x2="1694.6" y1="368.3" y2="368.3" stroke="#EBEBEB" stroke-width="2.6"/><line x1="1517" x2="1694.6" y1="331.2" y2="331.2" stroke="#EBEBEB" stroke-width="2.6"/><line x1="1535.46" x2="1535.46" y1="294.5" y2="437" stroke="#EBEBEB" stroke-width="2.6"/><line x1="1588.07" x2="1588.07" y1="294.5" y2="437" stroke="#EBEBEB" stroke-width="2.6"/><line x1="1640.68" x2="1640.68" y1="294.5" y2="437" stroke="#EBEBEB" stroke-width="2.6"/><line x1="1693.28" x2="1693.28" y1="294.5" y2="437" stroke="#EBEBEB" stroke-width="2.6"/>
<circle cx="1524.2" cy="300.5" r="4.45"/><circle cx="1524.2" cy="431.2" r="4.45"/><circle cx="1599.6" cy="349.1" r="4.45"/><circle cx="1599.6" cy="430" r="4.45"/><circle cx="1658.2" cy="390.2" r="4.45"/><circle cx="1658.2" cy="410.8" r="4.45"/><circle cx="1687.1" cy="375.3" r="4.45"/><circle cx="1685.9" cy="388" r="4.45"/>
<line x1="1524.8" y1="371.9" x2="1687.1" y2="394.1" stroke="#3366FF" stroke-width="3.4"/>
<rect x="1517" y="294.5" width="177.6" height="142.5" fill="none" stroke="#333333" stroke-width="1.6"/>
<line x1="1509.8" x2="1517" y1="405.4" y2="405.4" stroke="#333333" stroke-width="2.4"/>
<text transform="translate(1505,413.3) scale(1,1.04)" text-anchor="end" font-size="22" fill="#000" stroke="#000" stroke-width="0.3" >90</text>
<line x1="1509.8" x2="1517" y1="368.3" y2="368.3" stroke="#333333" stroke-width="2.4"/>
<text transform="translate(1505,376.2) scale(1,1.04)" text-anchor="end" font-size="22" fill="#000" stroke="#000" stroke-width="0.3" >120</text>
<line x1="1509.8" x2="1517" y1="331.2" y2="331.2" stroke="#333333" stroke-width="2.4"/>
<text transform="translate(1505,339.1) scale(1,1.04)" text-anchor="end" font-size="22" fill="#000" stroke="#000" stroke-width="0.3" >150</text>
<line x1="1509.8" x2="1517" y1="294.1" y2="294.1" stroke="#333333" stroke-width="2.4"/>
<text transform="translate(1505,302) scale(1,1.04)" text-anchor="end" font-size="22" fill="#000" stroke="#000" stroke-width="0.3" >180</text>
<line x1="1535.46" x2="1535.46" y1="437" y2="444.2" stroke="#333333" stroke-width="2.4"/>
<text transform="translate(1535.46,468.2) scale(1,1.04)" text-anchor="middle" font-size="22" fill="#000" stroke="#000" stroke-width="0.3" >0</text>
<line x1="1588.07" x2="1588.07" y1="437" y2="444.2" stroke="#333333" stroke-width="2.4"/>
<text transform="translate(1588.07,468.2) scale(1,1.04)" text-anchor="middle" font-size="22" fill="#000" stroke="#000" stroke-width="0.3" >10</text>
<line x1="1640.68" x2="1640.68" y1="437" y2="444.2" stroke="#333333" stroke-width="2.4"/>
<text transform="translate(1640.68,468.2) scale(1,1.04)" text-anchor="middle" font-size="22" fill="#000" stroke="#000" stroke-width="0.3" >20</text>
<line x1="1693.28" x2="1693.28" y1="437" y2="444.2" stroke="#333333" stroke-width="2.4"/>
<text transform="translate(1693.28,468.2) scale(1,1.04)" text-anchor="middle" font-size="22" fill="#000" stroke="#000" stroke-width="0.3" >30</text>
<text transform="translate(1605.15,285.2) scale(1,1.04)" text-anchor="middle" font-size="19.7" fill="#000" stroke="#000" stroke-width="0.3" ><tspan font-style="italic">R</tspan> = -0.206; <tspan font-style="italic">P</tspan> = 0.624</text>
<line x1="1757.9" x2="1935.5" y1="423.63" y2="423.63" stroke="#EBEBEB" stroke-width="1.4"/><line x1="1757.9" x2="1935.5" y1="390.17" y2="390.17" stroke="#EBEBEB" stroke-width="1.4"/><line x1="1757.9" x2="1935.5" y1="356.7" y2="356.7" stroke="#EBEBEB" stroke-width="1.4"/><line x1="1757.9" x2="1935.5" y1="323.23" y2="323.23" stroke="#EBEBEB" stroke-width="1.4"/><line x1="1802.67" x2="1802.67" y1="294.5" y2="437" stroke="#EBEBEB" stroke-width="1.4"/><line x1="1855.27" x2="1855.27" y1="294.5" y2="437" stroke="#EBEBEB" stroke-width="1.4"/><line x1="1907.88" x2="1907.88" y1="294.5" y2="437" stroke="#EBEBEB" stroke-width="1.4"/><line x1="1757.9" x2="1935.5" y1="406.9" y2="406.9" stroke="#EBEBEB" stroke-width="2.6"/><line x1="1757.9" x2="1935.5" y1="373.43" y2="373.43" stroke="#EBEBEB" stroke-width="2.6"/><line x1="1757.9" x2="1935.5" y1="339.97" y2="339.97" stroke="#EBEBEB" stroke-width="2.6"/><line x1="1757.9" x2="1935.5" y1="306.5" y2="306.5" stroke="#EBEBEB" stroke-width="2.6"/><line x1="1776.36" x2="1776.36" y1="294.5" y2="437" stroke="#EBEBEB" stroke-width="2.6"/><line x1="1828.97" x2="1828.97" y1="294.5" y2="437" stroke="#EBEBEB" stroke-width="2.6"/><line x1="1881.58" x2="1881.58" y1="294.5" y2="437" stroke="#EBEBEB" stroke-width="2.6"/><line x1="1934.18" x2="1934.18" y1="294.5" y2="437" stroke="#EBEBEB" stroke-width="2.6"/>
<circle cx="1764.8" cy="330.3" r="4.45"/><circle cx="1764.8" cy="386.8" r="4.45"/><circle cx="1840.2" cy="334.2" r="4.45"/><circle cx="1840.2" cy="431.2" r="4.45"/><circle cx="1898.8" cy="328.4" r="4.45"/><circle cx="1898.8" cy="364.6" r="4.45"/><circle cx="1926.5" cy="300.5" r="4.45"/><circle cx="1927.7" cy="341.2" r="4.45"/>
<line x1="1765.1" y1="373.1" x2="1927.7" y2="335.4" stroke="#3366FF" stroke-width="3.4"/>
<rect x="1757.9" y="294.5" width="177.6" height="142.5" fill="none" stroke="#333333" stroke-width="1.6"/>
<line x1="1750.7" x2="1757.9" y1="406.9" y2="406.9" stroke="#333333" stroke-width="2.4"/>
<text transform="translate(1745.9,414.8) scale(1,1.04)" text-anchor="end" font-size="22" fill="#000" stroke="#000" stroke-width="0.3" >80</text>
<line x1="1750.7" x2="1757.9" y1="373.43" y2="373.43" stroke="#333333" stroke-width="2.4"/>
<text transform="translate(1745.9,381.33) scale(1,1.04)" text-anchor="end" font-size="22" fill="#000" stroke="#000" stroke-width="0.3" >100</text>
<line x1="1750.7" x2="1757.9" y1="339.97" y2="339.97" stroke="#333333" stroke-width="2.4"/>
<text transform="translate(1745.9,347.87) scale(1,1.04)" text-anchor="end" font-size="22" fill="#000" stroke="#000" stroke-width="0.3" >120</text>
<line x1="1750.7" x2="1757.9" y1="306.5" y2="306.5" stroke="#333333" stroke-width="2.4"/>
<text transform="translate(1745.9,314.4) scale(1,1.04)" text-anchor="end" font-size="22" fill="#000" stroke="#000" stroke-width="0.3" >140</text>
<line x1="1776.36" x2="1776.36" y1="437" y2="444.2" stroke="#333333" stroke-width="2.4"/>
<text transform="translate(1776.36,468.2) scale(1,1.04)" text-anchor="middle" font-size="22" fill="#000" stroke="#000" stroke-width="0.3" >0</text>
<line x1="1828.97" x2="1828.97" y1="437" y2="444.2" stroke="#333333" stroke-width="2.4"/>
<text transform="translate(1828.97,468.2) scale(1,1.04)" text-anchor="middle" font-size="22" fill="#000" stroke="#000" stroke-width="0.3" >10</text>
<line x1="1881.58" x2="1881.58" y1="437" y2="444.2" stroke="#333333" stroke-width="2.4"/>
<text transform="translate(1881.58,468.2) scale(1,1.04)" text-anchor="middle" font-size="22" fill="#000" stroke="#000" stroke-width="0.3" >20</text>
<line x1="1934.18" x2="1934.18" y1="437" y2="444.2" stroke="#333333" stroke-width="2.4"/>
<text transform="translate(1934.18,468.2) scale(1,1.04)" text-anchor="middle" font-size="22" fill="#000" stroke="#000" stroke-width="0.3" >30</text>
<text transform="translate(1844.7,285.2) scale(1,1.04)" text-anchor="middle" font-size="19.7" fill="#000" stroke="#000" stroke-width="0.3" ><tspan font-style="italic">R</tspan> = 0.370; <tspan font-style="italic">P</tspan> = 0.368</text>
<text transform="translate(2.2,82.8) scale(1,1.04)" text-anchor="start" font-size="29" fill="#000" stroke="#000" stroke-width="0.3" font-weight="bold">A</text>
<text transform="translate(2.5,283.9) scale(1,1.04)" text-anchor="start" font-size="29" fill="#000" stroke="#000" stroke-width="0.3" font-weight="bold">B</text>
<text transform="translate(15.8,156) rotate(-90) scale(1,1.04)" text-anchor="middle" font-size="22" fill="#000" stroke="#000" stroke-width="0.3" >Diversity</text>
<text transform="translate(15.9,351.75) rotate(-90) scale(1,1.04)" text-anchor="middle" font-size="22" fill="#000" stroke="#000" stroke-width="0.3" >Abundance</text>
<text transform="translate(1050,505) scale(1,1.04)" text-anchor="middle" font-size="27.6" fill="#000" stroke="#000" stroke-width="0.3" >Temperature</text>
</svg>
</body></html>
